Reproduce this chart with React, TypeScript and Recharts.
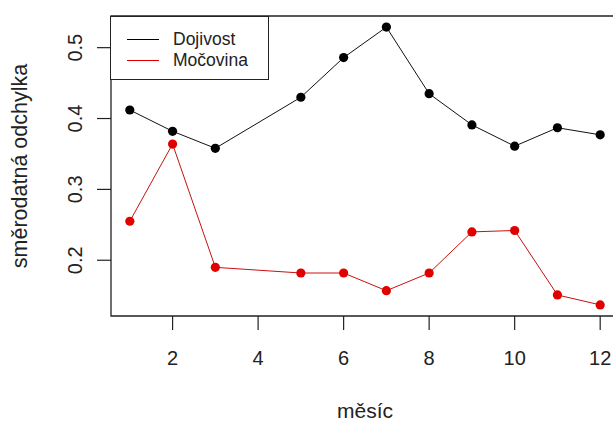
import React from 'react';
import { Label, Line, LineChart, ReferenceArea, XAxis, YAxis } from 'recharts';

// monthly standard deviations (month 4 has no record)
const months = [1, 2, 3, 5, 6, 7, 8, 9, 10, 11, 12];
const dojivost = [0.412, 0.382, 0.358, 0.43, 0.486, 0.529, 0.435, 0.391, 0.361, 0.387, 0.377];
const mocovina = [0.255, 0.364, 0.19, 0.182, 0.182, 0.157, 0.182, 0.24, 0.242, 0.151, 0.137];

const xTicks = [2, 4, 6, 8, 10, 12];
const yTicks = [0.2, 0.3, 0.4, 0.5];

const seriesNames = ['Dojivost', 'Močovina'];
const seriesColors = ['#000000', '#e00000'];

const rows = months.map((m, i) => ({ month: m, dojivost: dojivost[i], mocovina: mocovina[i] }));

const FONT = '"Liberation Sans", Arial, sans-serif';
const INK = '#222';

// R-style padding: 4% of the data range on each side
const pad = (lo: number, hi: number): [number, number] => {
  const d = (hi - lo) * 0.04;
  return [lo - d, hi + d];
};
const xDomain = pad(1, 12);
const yDomain = pad(Math.min(...mocovina), Math.max(...dojivost));

const XTick = (props: any) => {
  const { x, y, payload } = props;
  return (
    <g>
      <line x1={x} x2={x} y1={y} y2={y + 14} stroke={INK} strokeWidth={1.2} />
      <text x={x} y={y + 49} textAnchor="middle" fontSize={20} fontFamily={FONT} fill={INK}>
        {payload.value}
      </text>
    </g>
  );
};

const YTick = (props: any) => {
  const { x, y, payload } = props;
  const tx = x - 29;
  return (
    <g>
      <line x1={x} x2={x - 14} y1={y} y2={y} stroke={INK} strokeWidth={1.2} />
      <text
        x={tx}
        y={y}
        transform={`rotate(-90 ${tx} ${y})`}
        textAnchor="middle"
        fontSize={20}
        fontFamily={FONT}
        fill={INK}
      >
        {payload.value.toFixed(1)}
      </text>
    </g>
  );
};

function LegendBox() {
  return (
    <div
      style={{
        position: 'absolute',
        left: 110,
        top: 16,
        width: 157,
        height: 62,
        border: `1.2px solid ${INK}`,
        background: '#fff',
        fontFamily: FONT,
        fontSize: 17.5,
        color: INK,
      }}
    >
      {seriesNames.map((name, i) => (
        <div key={name} style={{ position: 'absolute', left: 16, top: 12 + i * 21, height: 20, display: 'flex', alignItems: 'center' }}>
          <span style={{ display: 'inline-block', width: 32, height: 0, borderTop: `1.2px solid ${seriesColors[i]}` }} />
          <span style={{ marginLeft: 14, lineHeight: '20px' }}>{name}</span>
        </div>
      ))}
    </div>
  );
}

export default function App() {
  return (
    <div style={{ position: 'absolute', left: 0, top: 0, width: 613, height: 421, overflow: 'hidden', background: '#fff' }}>
      <LineChart width={640} height={421} data={rows} margin={{ top: 16, right: 21, bottom: 0, left: 0 }}>
        <XAxis
          dataKey="month"
          type="number"
          domain={xDomain}
          ticks={xTicks}
          allowDataOverflow
          axisLine={false}
          tickLine={false}
          tickSize={0}
          tickMargin={0}
          height={105}
          tick={<XTick />}
        >
          <Label
            content={(p: any) => {
              const vb = p.viewBox;
              return (
                <text x={vb.x + vb.width / 2} y={418} textAnchor="middle" fontSize={21} fontFamily={FONT} fill={INK}>
                  měsíc
                </text>
              );
            }}
          />
        </XAxis>
        <YAxis
          type="number"
          domain={yDomain}
          ticks={yTicks}
          allowDataOverflow
          axisLine={false}
          tickLine={false}
          tickSize={0}
          tickMargin={0}
          width={111}
          tick={<YTick />}
        >
          <Label
            content={(p: any) => {
              const vb = p.viewBox;
              const cy = vb.y + vb.height / 2;
              return (
                <text x={27} y={cy} transform={`rotate(-90 27 ${cy})`} textAnchor="middle" fontSize={21.5} fontFamily={FONT} fill={INK}>
                  směrodatná odchylka
                </text>
              );
            }}
          />
        </YAxis>
        <ReferenceArea
          x1={xDomain[0]}
          x2={xDomain[1]}
          y1={yDomain[0]}
          y2={yDomain[1]}
          fill="none"
          stroke={INK}
          strokeWidth={1.3}
          ifOverflow="visible"
        />
        <Line
          dataKey="dojivost"
          stroke="#111"
          strokeWidth={1}
          dot={{ r: 4.6, fill: seriesColors[0], stroke: seriesColors[0], strokeWidth: 0 }}
          isAnimationActive={false}
        />
        <Line
          dataKey="mocovina"
          stroke="#c81010"
          strokeWidth={1}
          dot={{ r: 4.6, fill: seriesColors[1], stroke: seriesColors[1], strokeWidth: 0 }}
          isAnimationActive={false}
        />
      </LineChart>
      <LegendBox />
    </div>
  );
}
